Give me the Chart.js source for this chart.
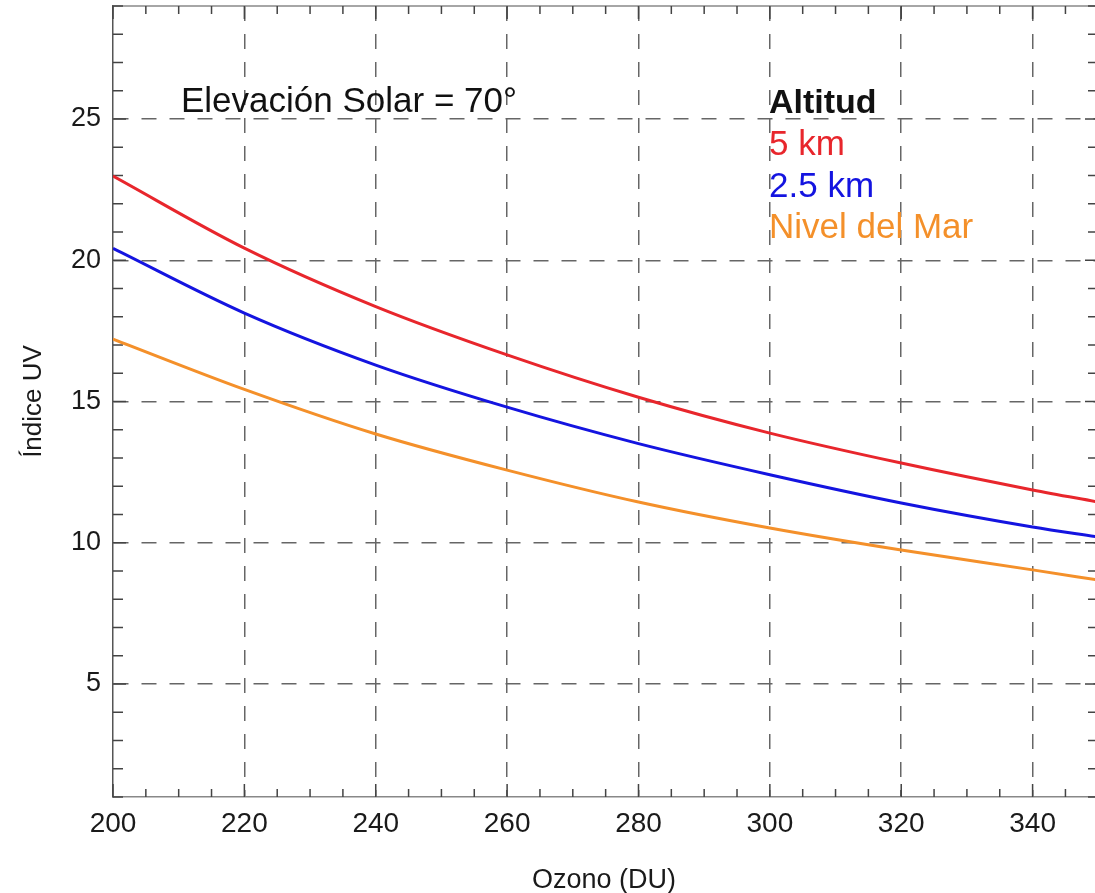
<!DOCTYPE html>
<html>
<head>
<meta charset="utf-8">
<script src="https://cdn.jsdelivr.net/npm/chart.js@4/dist/chart.umd.min.js"></script>
<style>
  html, body { margin: 0; padding: 0; background: #fff; }
  #wrap { width: 1095px; height: 893px; position: relative; }
</style>
</head>
<body>
<div id="wrap"><canvas id="c" width="1095" height="893"></canvas></div>
<script>
// ---- Data ----
const ozone   = [200, 220, 240, 260, 280, 300, 320, 340, 350];
const uv5km   = [22.98, 20.43, 18.36, 16.65, 15.15, 13.88, 12.82, 11.87, 11.44];
const uv25km  = [20.42, 18.13, 16.29, 14.80, 13.51, 12.41, 11.41, 10.56, 10.20];
const uvSea   = [17.21, 15.43, 13.85, 12.57, 11.44, 10.52, 9.74, 9.04, 8.68];

const seriesNames = ['5 km', '2.5 km', 'Nivel del Mar'];
const seriesColors = ['#e8262c', '#1414e0', '#f4902a'];

const xTickValues = [200, 220, 240, 260, 280, 300, 320, 340];
const yTickValues = [5, 10, 15, 20, 25];

const annotationText = 'Elevación Solar = 70°';
const legendTitle = 'Altitud';
const xTitle = 'Ozono (DU)';
const yTitle = 'Índice UV';

const FONT = '"Liberation Sans", Arial, Helvetica, sans-serif';

function pts(ys) { return ozone.map((x, i) => ({ x: x, y: ys[i] })); }

const framePlugin = {
  id: 'frame',
  beforeDatasetsDraw(chart) {
    const { ctx, chartArea: a, scales: { x, y } } = chart;
    ctx.save();
    ctx.strokeStyle = '#888';
    ctx.lineWidth = 1.5;
    // top frame line
    ctx.beginPath();
    ctx.moveTo(a.left, a.top); ctx.lineTo(a.right, a.top);
    ctx.stroke();
    // x ticks (minor every 5, major every 20)
    ctx.strokeStyle = '#444';
    for (let v = 200; v <= 350; v += 5) {
      const px = x.getPixelForValue(v);
      if (px < a.left || px > a.right) continue;
      const major = (v % 20 === 0);
      const len = major ? 13 : 8;
      ctx.beginPath();
      ctx.moveTo(px, a.bottom); ctx.lineTo(px, a.bottom - len);
      ctx.moveTo(px, a.top); ctx.lineTo(px, a.top + len);
      ctx.stroke();
    }
    // y ticks (minor every 1, major every 5)
    for (let v = 1; v <= 29; v += 1) {
      const py = y.getPixelForValue(v);
      const major = (v % 5 === 0);
      const len = major ? 13 : 10;
      ctx.beginPath();
      ctx.moveTo(a.left, py); ctx.lineTo(a.left + len, py);
      ctx.moveTo(a.right + 3, py); ctx.lineTo(a.right + 3 - len, py);
      ctx.stroke();
    }
    ctx.restore();
  },
  afterDraw(chart) {
    const { ctx } = chart;
    ctx.save();
    ctx.textBaseline = 'alphabetic';
    ctx.textAlign = 'left';
    ctx.fillStyle = '#111';
    ctx.font = '35px ' + FONT;
    ctx.fillText(annotationText, 181, 112);
    ctx.font = 'bold 34px ' + FONT;
    ctx.fillText(legendTitle, 769, 113);
    ctx.font = '35px ' + FONT;
    const base = [155, 197, 238];
    seriesNames.forEach((n, i) => {
      ctx.fillStyle = seriesColors[i];
      ctx.fillText(n, 769, base[i]);
    });
    ctx.restore();
  }
};

const gridColorX = (c) => (c.tick && c.tick.value === 200) ? 'rgba(0,0,0,0)' : '#666';

new Chart(document.getElementById('c'), {
  type: 'line',
  data: {
    datasets: [
      { label: seriesNames[0], data: pts(uv5km),  borderColor: seriesColors[0] },
      { label: seriesNames[1], data: pts(uv25km), borderColor: seriesColors[1] },
      { label: seriesNames[2], data: pts(uvSea),  borderColor: seriesColors[2] }
    ].map(d => Object.assign(d, {
      borderWidth: 3, pointRadius: 0, fill: false,
      cubicInterpolationMode: 'monotone'
    }))
  },
  options: {
    responsive: false,
    animation: false,
    devicePixelRatio: 1,
    layout: { padding: { top: 6, right: 0, left: 0, bottom: 0 } },
    plugins: { legend: { display: false }, tooltip: { enabled: false } },
    scales: {
      x: {
        type: 'linear', min: 200, max: 349.5,
        afterBuildTicks: s => { s.ticks = xTickValues.map(v => ({ value: v })); },
        afterFit: s => { s.height = 96; s.paddingLeft = 0; s.paddingRight = 0; },
        grid: { color: gridColorX, lineWidth: 1.5, drawTicks: false },
        border: { display: true, color: '#888', width: 1.5, dash: [15, 13] },
        ticks: { color: '#1a1a1a', font: { family: FONT, size: 28 }, padding: 10, maxRotation: 0, autoSkip: false },
        title: { display: true, text: xTitle, color: '#1a1a1a', font: { family: FONT, size: 27, lineHeight: 0.9 }, padding: { top: 0, bottom: 0 } }
      },
      y: {
        type: 'linear', min: 1, max: 29,
        afterBuildTicks: s => { s.ticks = yTickValues.map(v => ({ value: v })); },
        afterFit: s => { s.width = 113; s.paddingTop = 0; s.paddingBottom = 0; },
        grid: { color: '#666', lineWidth: 1.5, drawTicks: false },
        border: { display: true, color: '#555', width: 1.5, dash: [15, 13] },
        ticks: { color: '#1a1a1a', font: { family: FONT, size: 27 }, padding: 12 },
        title: { display: true, text: yTitle, color: '#1a1a1a', font: { family: FONT, size: 26, lineHeight: 1 }, padding: { top: 21, bottom: 0 } }
      }
    }
  },
  plugins: [framePlugin]
});
</script>
</body>
</html>
